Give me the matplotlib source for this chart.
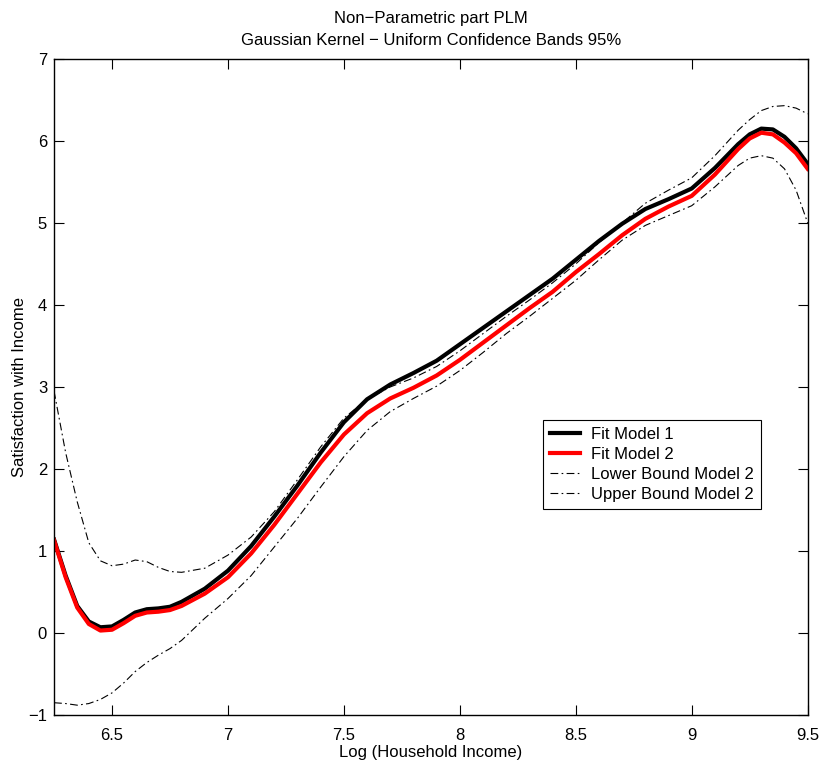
import matplotlib.pyplot as plt
import numpy as np

plt.rcParams['font.family'] = ['Liberation Sans', 'DejaVu Sans']
plt.rcParams['axes.unicode_minus'] = True

# Data
log_income = [6.25, 6.30, 6.35, 6.40, 6.45, 6.50, 6.55, 6.60, 6.65, 6.70, 6.75, 6.80,
              6.90, 7.00, 7.10, 7.20, 7.30, 7.40, 7.50, 7.60, 7.70, 7.80, 7.90, 8.00,
              8.10, 8.20, 8.30, 8.40, 8.50, 8.60, 8.70, 8.80, 8.90, 9.00, 9.10, 9.20,
              9.25, 9.30, 9.35, 9.40, 9.45, 9.50]

fit_model1 = [1.14, 0.70, 0.33, 0.14, 0.07, 0.08, 0.16, 0.25, 0.29, 0.30, 0.32, 0.38,
              0.54, 0.76, 1.06, 1.42, 1.80, 2.20, 2.57, 2.85, 3.03, 3.17, 3.32, 3.52,
              3.72, 3.92, 4.12, 4.32, 4.55, 4.78, 4.99, 5.17, 5.29, 5.42, 5.67, 5.96,
              6.08, 6.15, 6.14, 6.05, 5.91, 5.72]

fit_model2 = [1.13, 0.68, 0.31, 0.11, 0.03, 0.04, 0.12, 0.21, 0.25, 0.26, 0.28, 0.33,
              0.48, 0.68, 0.97, 1.32, 1.70, 2.08, 2.42, 2.68, 2.86, 2.99, 3.14, 3.33,
              3.54, 3.75, 3.96, 4.16, 4.40, 4.62, 4.85, 5.05, 5.20, 5.33, 5.59, 5.90,
              6.03, 6.10, 6.08, 5.98, 5.85, 5.66]

lower_model2 = [-0.85, -0.86, -0.88, -0.86, -0.81, -0.73, -0.61, -0.47, -0.36, -0.27, -0.19, -0.09,
                0.18, 0.42, 0.70, 1.05, 1.40, 1.78, 2.15, 2.47, 2.70, 2.86, 3.01, 3.20,
                3.42, 3.65, 3.86, 4.08, 4.30, 4.55, 4.79, 4.97, 5.09, 5.21, 5.44, 5.70,
                5.79, 5.82, 5.79, 5.66, 5.40, 5.00]

upper_model2 = [2.95, 2.20, 1.60, 1.10, 0.88, 0.82, 0.84, 0.89, 0.87, 0.80, 0.75, 0.74,
                0.79, 0.95, 1.17, 1.48, 1.87, 2.27, 2.62, 2.85, 3.00, 3.11, 3.25, 3.44,
                3.65, 3.86, 4.06, 4.27, 4.50, 4.76, 5.00, 5.24, 5.40, 5.55, 5.82, 6.13,
                6.26, 6.37, 6.42, 6.43, 6.40, 6.33]

fig = plt.figure(figsize=(8.25, 7.71), dpi=100)
ax = fig.add_axes([0.0655, 0.0726, 0.9135, 0.851])

dashdot = (0, (7, 3, 1.5, 3))
ax.plot(log_income, fit_model1, color='black', lw=3, label='Fit Model 1')
ax.plot(log_income, fit_model2, color='red', lw=3, label='Fit Model 2')
ax.plot(log_income, lower_model2, color='black', lw=0.8, linestyle=dashdot, label='Lower Bound Model 2')
ax.plot(log_income, upper_model2, color='black', lw=0.8, linestyle=dashdot, label='Upper Bound Model 2')

ax.set_xlim(6.25, 9.5)
ax.set_ylim(-1, 7)
ax.set_xticks([6.5, 7, 7.5, 8, 8.5, 9, 9.5])
ax.set_xticklabels(['6.5', '7', '7.5', '8', '8.5', '9', '9.5'])
ax.set_yticks(range(-1, 8))
ax.tick_params(direction='in', top=True, right=True, length=7, labelsize=12)
ax.tick_params(axis='y', pad=5)
ax.tick_params(axis='x', pad=9)
for s in ax.spines.values():
    s.set_linewidth(1.0)

ax.set_xlabel('Log (Household Income)', fontsize=12, labelpad=2)
ax.set_ylabel('Satisfaction with Income', fontsize=12, labelpad=0.5)
ax.set_title('Non\u2212Parametric part PLM\nGaussian Kernel \u2212 Uniform Confidence Bands 95%',
             fontsize=12, pad=10, linespacing=1.6)

leg = ax.legend(loc='upper left', bbox_to_anchor=(0.649, 0.449), fontsize=12,
                handlelength=1.8, handletextpad=0.7, borderpad=0.4, labelspacing=0.3,
                borderaxespad=0, fancybox=False, framealpha=1, edgecolor='black')
leg.get_frame().set_linewidth(0.8)

fig.savefig('out.png', dpi=100)
